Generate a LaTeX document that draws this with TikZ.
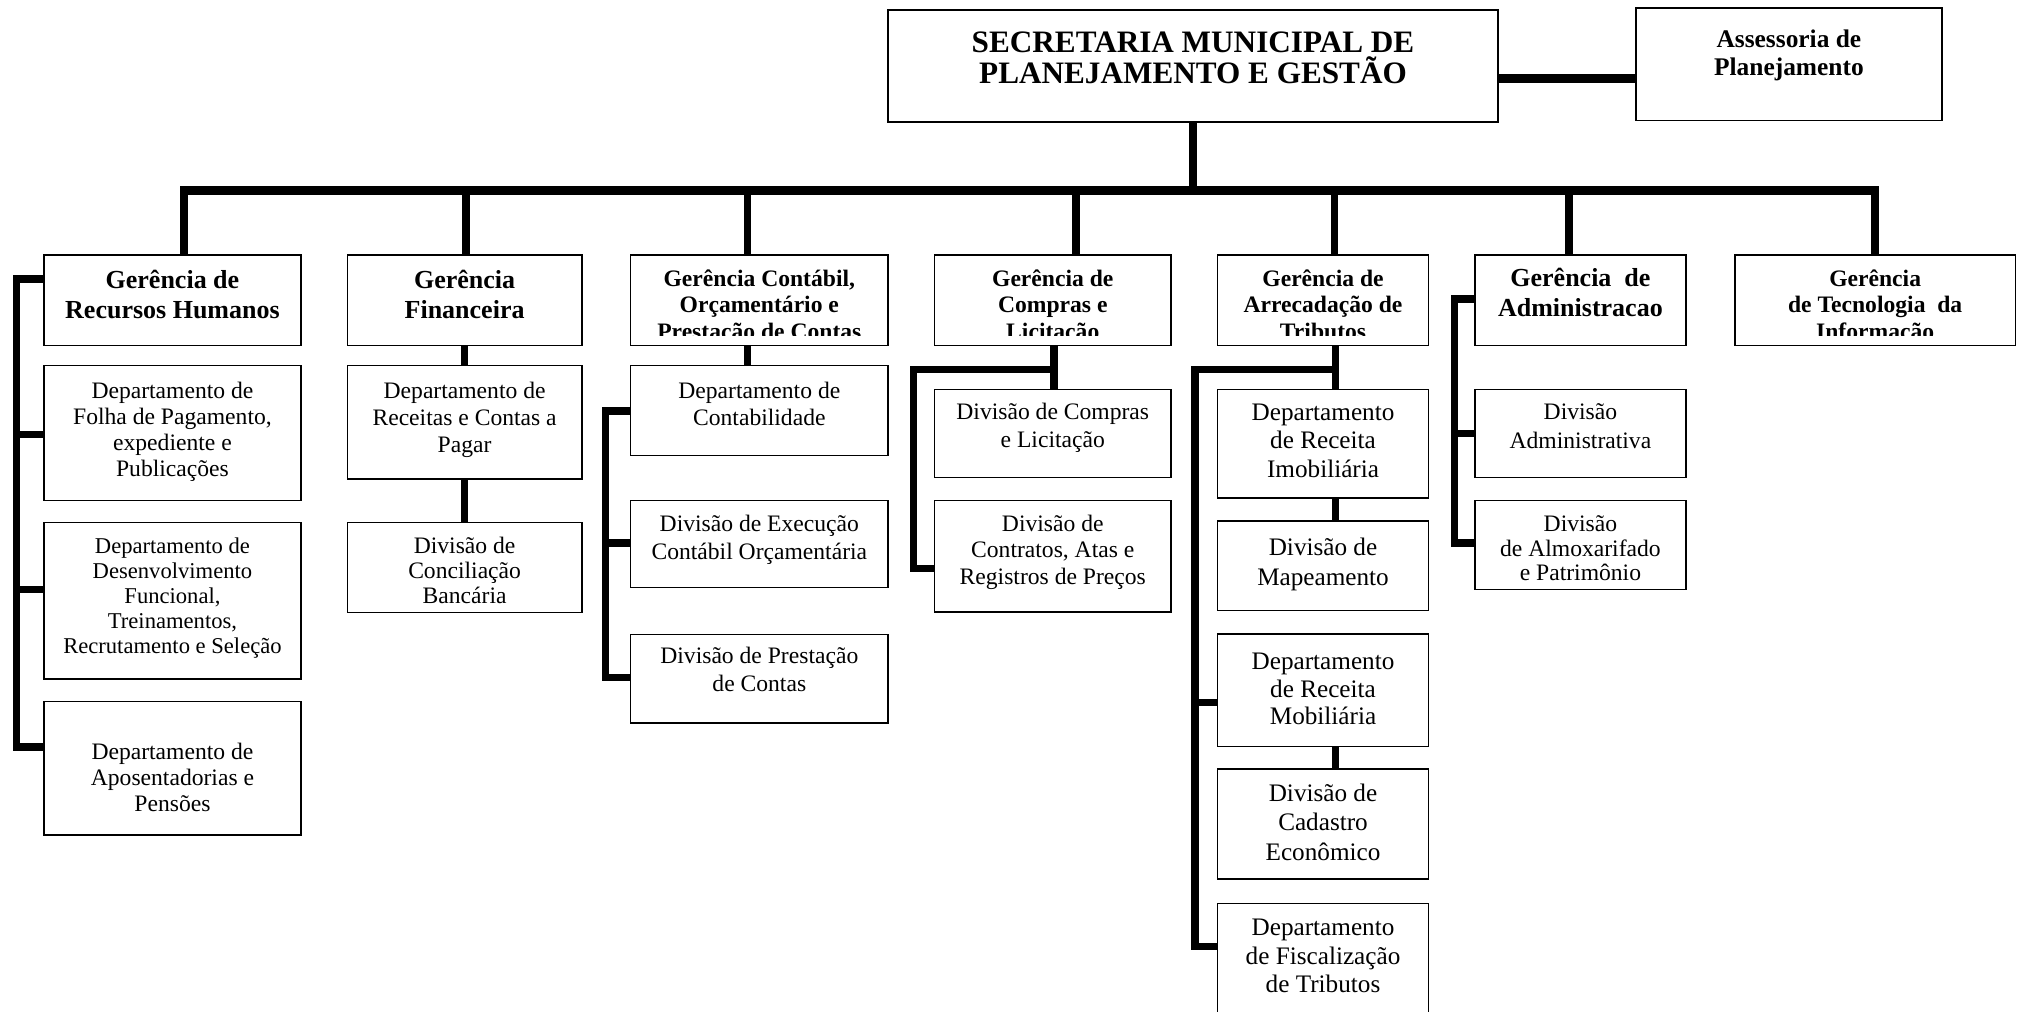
\documentclass[tikz,border=0pt]{standalone}
\usepackage{fontspec}
\setmainfont{Liberation Serif}
\usetikzlibrary{fit}
\begin{document}
% text nodes are placed by the baseline of their LAST line
\begin{tikzpicture}[x=0.6435pt,y=-0.6435pt,
  box/.style={draw=black,line width=0.8pt,inner sep=0pt},
  ttl/.style={font=\bfseries\fontsize{15.6pt}{15.6pt}\selectfont,align=center,anchor=base,inner sep=0pt},
  hdA/.style={font=\bfseries\fontsize{13pt}{#1}\selectfont,align=center,anchor=base,inner sep=0pt},
  hdA/.default=14.9pt,
  hdB/.style={font=\bfseries\fontsize{11.8pt}{13.3pt}\selectfont,align=center,anchor=base,inner sep=0pt},
  tx/.style={font=\fontsize{11.8pt}{#1}\selectfont,align=center,anchor=base,inner sep=0pt},
  tx/.default=13pt,
  txL/.style={font=\fontsize{12.6pt}{#1}\selectfont,align=center,anchor=base,inner sep=0pt},
  txL/.default=14.2pt,
  conn/.style={line width=3.7pt},
  busline/.style={line width=4.3pt},
  brk/.style={line width=3.7pt,line join=miter},
]
\useasboundingbox (0,0) rectangle (1568,785.6);

% ---------- top level ----------
\node[box,fit={(690,8) (1164,95)}] (main) {};
\node[ttl] (mainT) at (main.north |- 0,65.2) {SECRETARIA MUNICIPAL DE\\PLANEJAMENTO E GESTÃO};
\node[box,fit={(1271,6) (1509,93.5)}] (ass) {};
\node[font=\bfseries\fontsize{12.7pt}{14.2pt}\selectfont,align=center,anchor=base,inner sep=0pt] (assT) at (ass.north |- 0,58.6) {Assessoria de\\Planejamento};

% ---------- gerencias ----------
\node[box,fit={(34,198) (234,268.5)}] (g1) {};
\node[box,fit={(270,198) (452,268.5)}] (g2) {};
\node[box,fit={(490,198) (690,268.5)}] (g3) {};
\node[box,fit={(726,198) (910,268.5)}] (g4) {};
\node[box,fit={(946,198) (1110,268.5)}] (g5) {};
\node[box,fit={(1146,198) (1310,268.5)}] (g6) {};
\node[box,fit={(1348,198) (1566,268.5)}] (g7) {};

\begin{scope}
\clip (0,190) rectangle (1568,260.5);
\node[hdA] (g1T) at (g1.north |- 0,247.2) {Gerência de\\Recursos Humanos};
\node[hdA] (g2T) at (g2.north |- 0,247.2) {Gerência\\Financeira};
\node[hdB] (g3T) at (g3.north |- 0,263.8) {Gerência Contábil,\\Orçamentário e\\Prestação de Contas};
\node[hdB] (g4T) at (g4.north |- 0,263.8) {Gerência de\\Compras e\\Licitação};
\node[hdB] (g5T) at (g5.north |- 0,263.8) {Gerência de\\Arrecadação de\\Tributos};
\node[hdA={15pt}] (g6T) at (g6.north |- 0,246.3) {Gerência\ \ de\\Administracao};
\node[hdB] (g7T) at (g7.north |- 0,263.8) {Gerência\\de Tecnologia\ \ da\\Informação};
\end{scope}

% ---------- column 1 ----------
\node[box,fit={(34,284) (234,389)}] (dA) {};
\node[tx] (dAT) at (dA.north |- 0,370.2) {Departamento de\\Folha de Pagamento,\\expediente e\\Publicações};
\node[box,fit={(34,406) (234,527.5)}] (dB) {};
\node[font=\fontsize{11.3pt}{12.5pt}\selectfont,align=center,anchor=base,inner sep=0pt] (dBT) at (dB.north |- 0,508.1) {Departamento de\\Desenvolvimento\\Funcional,\\Treinamentos,\\Recrutamento e Seleção};
\node[box,fit={(34,545) (234,649)}] (dC) {};
\node[tx] (dCT) at (dC.north |- 0,630.2) {Departamento de\\Aposentadorias e\\Pensões};

% ---------- column 2 ----------
\node[box,fit={(270,284) (452,372)}] (dD) {};
\node[tx={13.5pt}] (dDT) at (dD.north |- 0,351.5) {Departamento de\\Receitas e Contas a\\Pagar};
\node[box,fit={(270,406) (452,476)}] (dE) {};
\node[tx={12.3pt}] (dET) at (dE.north |- 0,468.6) {Divisão de\\Conciliação\\Bancária};

% ---------- column 3 ----------
\node[box,fit={(490,284) (690,354)}] (dF) {};
\node[tx={13.6pt}] (dFT) at (dF.north |- 0,330.4) {Departamento de\\Contabilidade};
\node[box,fit={(490,389) (690,456.5)}] (dG) {};
\node[tx={14.2pt}] (dGT) at (dG.north |- 0,435.1) {Divisão de Execução\\Contábil Orçamentária};
\node[box,fit={(490,493) (690,562)}] (dH) {};
\node[tx={13.8pt}] (dHT) at (dH.north |- 0,537.1) {Divisão de Prestação\\de Contas};

% ---------- column 4 ----------
\node[box,fit={(726,302.5) (910,371)}] (dI) {};
\node[tx={13.8pt}] (dIT) at (dI.north |- 0,347.5) {Divisão de Compras\\e Licitação};
\node[box,fit={(726,389) (910,475.5)}] (dJ) {};
\node[tx={13.2pt}] (dJT) at (dJ.north |- 0,454) {Divisão de\\Contratos, Atas e\\Registros de Preços};

% ---------- column 5 ----------
\node[box,fit={(946,302.5) (1110,387)}] (dK) {};
\node[txL] (dKT) at (dK.north |- 0,370.8) {Departamento\\de Receita\\Imobiliária};
\node[box,fit={(946,405) (1110,474.5)}] (dL) {};
\node[txL={15pt}] (dLT) at (dL.north |- 0,454.9) {Divisão de\\Mapeamento};
\node[box,fit={(946,492.5) (1110,580)}] (dM) {};
\node[txL={13.8pt}] (dMT) at (dM.north |- 0,563.2) {Departamento\\de Receita\\Mobiliária};
\node[box,fit={(946,597.3) (1110,683)}] (dN) {};
\node[txL={14.8pt}] (dNT) at (dN.north |- 0,668.5) {Divisão de\\Cadastro\\Econômico};
\node[box,fit={(946,702) (1110,800)}] (dO) {};
\node[txL] (dOT) at (dO.north |- 0,771.1) {Departamento\\de Fiscalização\\de Tributos};

% ---------- column 6 ----------
\node[box,fit={(1146,302.5) (1310,371)}] (dP) {};
\node[tx={14.2pt}] (dPT) at (dP.north |- 0,348.3) {Divisão\\Administrativa};
\node[box,fit={(1146,389) (1310,458)}] (dQ) {};
\node[tx={12.3pt}] (dQT) at (dQ.north |- 0,451.2) {Divisão\\de Almoxarifado\\e Patrimônio};

% ---------- connectors: top ----------
\coordinate (lk) at (1200,61);
\draw[conn,line width=4.2pt] (main.east |- lk) -- (ass.west |- lk);
\coordinate (d1) at (143,148);
\coordinate (d2) at (362,148);
\coordinate (d3) at (581,148);
\coordinate (d4) at (836,148);
\coordinate (d5) at (1037,148);
\coordinate (d6) at (1219,148);
\coordinate (d7) at (1457,148);
\draw[conn] (main.south |- 0,95) -- (main.south |- d1);
\draw[busline] ([xshift=-1.85pt]d1) -- ([xshift=1.85pt]d7);
\foreach \i in {1,...,7}{\draw[conn] (d\i) -- (d\i |- g\i.north);}

% ---------- column 1 ----------
\coordinate (s1a) at (12.6,216.8);
\coordinate (s1b) at (12.6,337.5);
\coordinate (s1c) at (12.6,458.2);
\coordinate (s1d) at (12.6,580.5);
\draw[brk] (g1.west |- s1a) -- (s1a) -- (s1d) -- (dC.west |- s1d);
\draw[brk] (s1b) -- (dA.west |- s1b);
\draw[brk] (s1c) -- (dB.west |- s1c);

% ---------- column 2 ----------
\draw[conn] (g2.south) -- (dD.north);
\draw[conn] (dD.south) -- (dE.north);

% ---------- column 3 ----------
\coordinate (c3) at (581,276);
\draw[conn] (g3.south -| c3) -- (dF.north -| c3);
\coordinate (s3a) at (470.6,319.2);
\coordinate (s3b) at (470.6,422);
\coordinate (s3c) at (470.6,526.4);
\draw[brk] (dF.west |- s3a) -- (s3a) -- (s3c) -- (dH.west |- s3c);
\draw[brk] (s3b) -- (dG.west |- s3b);

% ---------- column 4 ----------
\coordinate (j4) at (819,287);
\coordinate (s4a) at (709.7,287);
\coordinate (s4b) at (709.7,441.5);
\draw[conn] (g4.south -| j4) -- (dI.north -| j4);
\draw[brk] (j4) -- (s4a) -- (s4b) -- (dJ.west |- s4b);

% ---------- column 5 ----------
\coordinate (j5) at (1037.5,287);
\coordinate (s5a) at (928.5,287);
\coordinate (s5b) at (928.5,545.8);
\coordinate (s5c) at (928.5,735.6);
\draw[conn] (g5.south -| j5) -- (dK.north -| j5);
\draw[brk] (j5) -- (s5a) -- (s5c) -- (dO.west |- s5c);
\draw[brk] (s5b) -- (dM.west |- s5b);
\draw[conn] (dK.south -| j5) -- (dL.north -| j5);
\draw[conn] (dM.south -| j5) -- (dN.north -| j5);

% ---------- column 6 ----------
\coordinate (s6a) at (1130,232.4);
\coordinate (s6b) at (1130,336.6);
\coordinate (s6c) at (1130,422);
\draw[brk] (g6.west |- s6a) -- (s6a) -- (s6c) -- (dQ.west |- s6c);
\draw[brk] (s6b) -- (dP.west |- s6b);
\end{tikzpicture}
\end{document}
